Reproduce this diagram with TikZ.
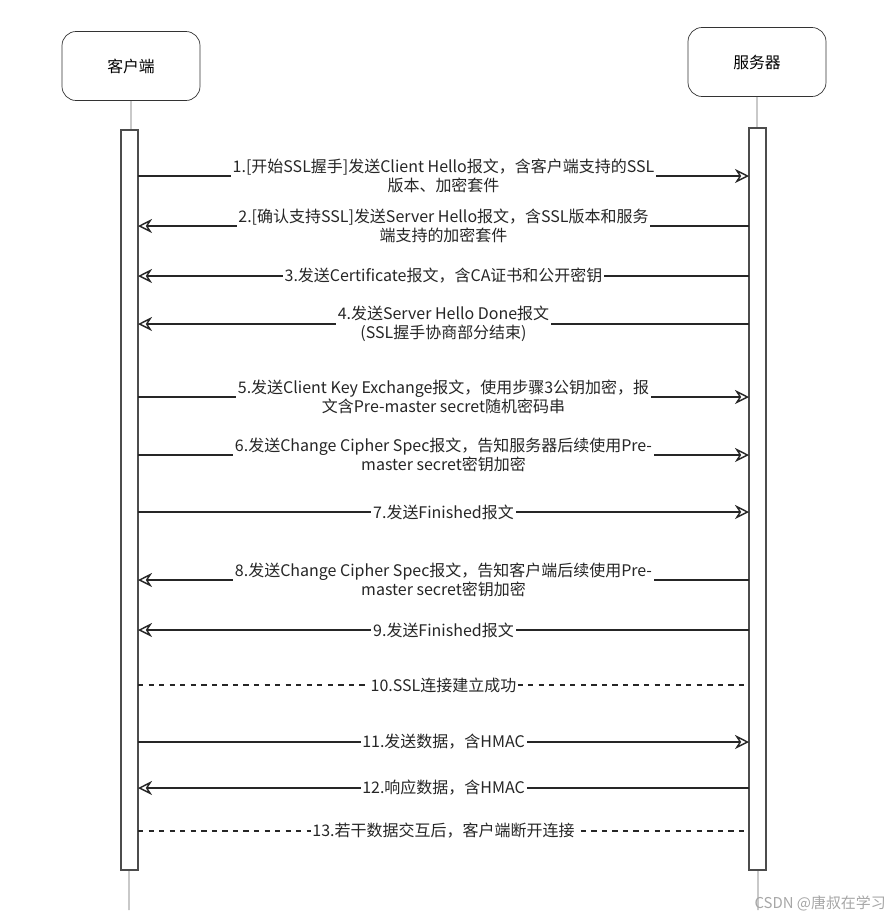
\documentclass[tikz,border=0pt]{standalone}
\usepackage{fontspec}
\setmainfont{Noto Sans CJK SC}
\usetikzlibrary{arrows.meta}
\tikzstyle{actor} = [rectangle, rounded corners=8pt, minimum width=2.76cm, minimum height=1.38cm, draw=black!80, fill=white, font=\fontsize{9}{11}\selectfont]
\tikzstyle{bar} = [draw=black!70, fill=white, thick]
\tikzstyle{msg} = [fill=white, inner sep=1pt, align=center, font=\fontsize{9.1}{11}\selectfont]
\tikzstyle{arrow} = [thick, black!85, -{Stealth[open, length=8pt, width=8pt]}]
\tikzstyle{dashline} = [thick, black!85, dashed]

\begin{document}
\begin{tikzpicture}[x=0.02cm, y=-0.02cm]
\useasboundingbox (0,0) rectangle (895,917);

% Actors
\node (client) [actor] at (131,66) {客户端};
\node (server) [actor] at (757,62) {服务器};

% Lifelines
\draw [black!60] (client.south) -- (129,910);
\draw [black!60] (server.south) -- (758,910);
\draw [bar] (121,130) rectangle (138,870);
\draw [bar] (749,128) rectangle (766,870);

% End points
\foreach \n/\y in {1/176, 2/226, 3/276, 4/324, 5/397, 6/455, 7/512, 8/580, 9/630, 10/685, 11/742, 12/788, 13/831} {
  \coordinate (c\n) at (138,\y);
  \coordinate (s\n) at (749,\y);
}

% Messages
\draw [arrow] (c1) -- (s1) node [msg, midway] {1.[开始SSL握手]发送Client Hello报文，含客户端支持的SSL\\版本、加密套件};
\draw [arrow] (s2) -- (c2) node [msg, midway] {2.[确认支持SSL]发送Server Hello报文，含SSL版本和服务\\端支持的加密套件};
\draw [arrow] (s3) -- (c3) node [msg, midway] {3.发送Certificate报文，含CA证书和公开密钥};
\draw [arrow] (s4) -- (c4) node [msg, midway] {4.发送Server Hello Done报文\\(SSL握手协商部分结束)};
\draw [arrow] (c5) -- (s5) node [msg, midway] {5.发送Client Key Exchange报文，使用步骤3公钥加密，报\\文含Pre-master secret随机密码串};
\draw [arrow] (c6) -- (s6) node [msg, midway] {6.发送Change Cipher Spec报文，告知服务器后续使用Pre-\\master secret密钥加密};
\draw [arrow] (c7) -- (s7) node [msg, midway] {7.发送Finished报文};
\draw [arrow] (s8) -- (c8) node [msg, midway] {8.发送Change Cipher Spec报文，告知客户端后续使用Pre-\\master secret密钥加密};
\draw [arrow] (s9) -- (c9) node [msg, midway] {9.发送Finished报文};
\draw [dashline] (c10) -- (s10) node [msg, midway] {10.SSL连接建立成功};
\draw [arrow] (c11) -- (s11) node [msg, midway] {11.发送数据，含HMAC};
\draw [arrow] (s12) -- (c12) node [msg, midway] {12.响应数据，含HMAC};
\draw [dashline] (c13) -- (s13) node [msg, midway] {13.若干数据交互后，客户端断开连接};

% Watermark
\node (mark) [anchor=east, text=black!35, font=\fontsize{8.5}{10}\selectfont] at (892,903) {CSDN @唐叔在学习};
\end{tikzpicture}
\end{document}
